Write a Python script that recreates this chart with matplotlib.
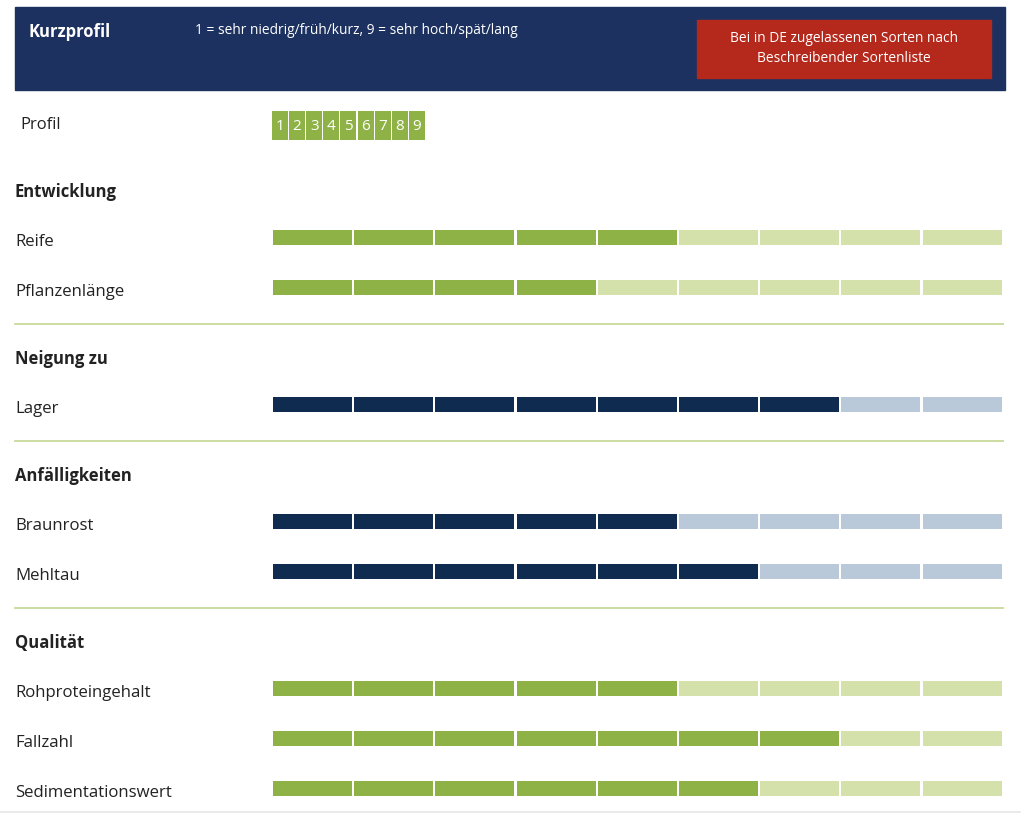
import matplotlib.pyplot as plt
from matplotlib.patches import Rectangle

plt.rcParams['font.family'] = ['Open Sans', 'DejaVu Sans']

# data
sections = ['Entwicklung', 'Neigung zu', 'Anfälligkeiten', 'Qualität']
traits = ['Reife', 'Pflanzenlänge', 'Lager', 'Braunrost', 'Mehltau',
          'Rohproteingehalt', 'Fallzahl', 'Sedimentationswert']
trait_section = [0, 0, 1, 2, 2, 3, 3, 3]
scores = [5, 4, 7, 5, 6, 5, 7, 6]
scale = [1, 2, 3, 4, 5, 6, 7, 8, 9]

# colours
navy_head = '#1c3160'
red_box = '#b5291c'
green = '#8fb247'
green_light = '#d4e1aa'
navy = '#0f2b4f'
blue_light = '#b9c9da'
sep_col = '#c8d99a'

W, H = 1024, 819
fig = plt.figure(figsize=(W / 100, H / 100), dpi=100)
ax = fig.add_axes([0, 0, 1, 1])
ax.set_xlim(0, W)
ax.set_ylim(H, 0)
ax.axis('off')

# header
ax.add_patch(Rectangle((15, 7), 990, 83, color=navy_head))
ax.text(28, 32, 'Kurzprofil', color='white', fontsize=12, fontweight='bold', va='center')
ax.text(195, 30, '1 = sehr niedrig/früh/kurz, 9 = sehr hoch/spät/lang', color='white',
        fontsize=9.9, va='center')
ax.add_patch(Rectangle((697, 20), 294, 58, color=red_box))
ax.text(844, 38, 'Bei in DE zugelassenen Sorten nach', color='white', fontsize=9.9,
        ha='center', va='center')
ax.text(844, 59, 'Beschreibender Sortenliste', color='white', fontsize=9.9,
        ha='center', va='center')

# profile scale squares
ax.text(20, 125, 'Profil', fontsize=12, color='#222222', va='center')
sq_x = [272 + 17.1 * i for i in range(len(scale))]
ax.bar(sq_x, 29, width=16, bottom=111, align='edge', color=green)
for x, s in zip(sq_x, scale):
    ax.text(x + 8, 126, str(s), color='white', fontsize=11, ha='center', va='center')

# rows
section_y = [192, 359, 476, 643]
trait_y = [242, 292, 409, 526, 576, 693, 743, 793]
sep_y = [324, 441, 608]

for name, y in zip(sections, section_y):
    ax.text(15, y, name, fontsize=12, fontweight='bold', color='#222222', va='center')

for y in sep_y:
    ax.plot([15, 1003], [y, y], color=sep_col, lw=1.3)
ax.plot([0, 1020], [812, 812], color='#e6e6e6', lw=1.2)

x0, pitch, seg_w = 273, 81.2, 79
for name, sec, score, y in zip(traits, trait_section, scores, trait_y):
    ax.text(15, y, name, fontsize=12.1, color='#222222', va='center')
    if sec in (1, 2):
        on, off = navy, blue_light
    else:
        on, off = green, green_light
    lefts = [x0 + pitch * i for i in range(len(scale))]
    cols = [on if s <= score else off for s in scale]
    ax.barh(y - 5, seg_w, left=lefts, height=15, color=cols)

fig.savefig('out.png', dpi=100)
